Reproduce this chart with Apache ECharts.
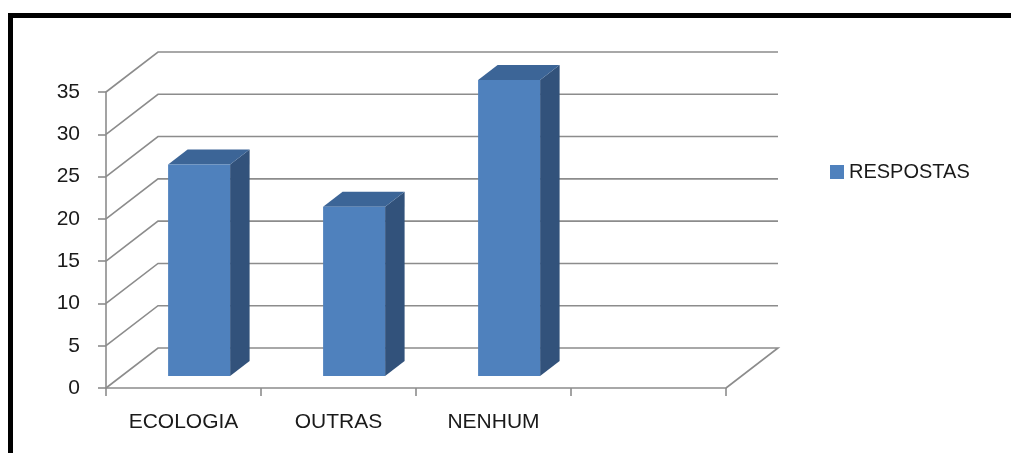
<!DOCTYPE html>
<html>
<head>
<meta charset="utf-8">
<script src="https://cdn.jsdelivr.net/npm/echarts@6/dist/echarts.min.js"></script>
<style>
  html, body { margin: 0; padding: 0; background: #fff; }
  #chart { width: 1011px; height: 453px; }
</style>
</head>
<body>
<div id="chart"></div>
<script>
// dados do gráfico
var categories = ['ECOLOGIA', 'OUTRAS', 'NENHUM', ''];
var respostas = [25, 20, 35];
var yTicks = [0, 5, 10, 15, 20, 25, 30, 35];
var seriesName = 'RESPOSTAS';

// deslocamento da profundidade (efeito 3D)
var DX = 52, DY = -40;
var F1 = 0.3, F2 = 0.675; // posição da barra na profundidade
var fontName = 'Liberation Sans';

var myChart = echarts.init(document.getElementById('chart'));

// paredes e piso com as linhas de grade
function renderWalls(params, api) {
  var cs = params.coordSys;
  var v = api.value(1);
  var y = api.coord([0, v])[1];
  var left = cs.x, right = cs.x + cs.width;
  var pts = [[left, y], [left + DX, y + DY], [right + DX, y + DY]];
  if (v === 0) pts.push([right, y]);
  return {
    type: 'polyline',
    shape: { points: pts },
    style: { stroke: '#8c8c8c', lineWidth: 1.6, fill: null }
  };
}

// barras 3D
function renderBar(params, api) {
  var cat = api.value(0);
  var val = api.value(1);
  var base = api.coord([cat, 0]);
  var topP = api.coord([cat, val]);
  var w = api.size([1, 0])[0] * 0.4;
  var x0 = base[0] - w / 2 + F1 * DX;
  var x1 = x0 + w;
  var yb = base[1] + F1 * DY;
  var yt = topP[1] + F1 * DY;
  var ddx = (F2 - F1) * DX, ddy = (F2 - F1) * DY;
  return {
    type: 'group',
    children: [
      {
        type: 'polygon',
        shape: { points: [[x1, yt], [x1 + ddx, yt + ddy], [x1 + ddx, yb + ddy], [x1, yb]] },
        style: { fill: '#32527b' }
      },
      {
        type: 'polygon',
        shape: { points: [[x0, yt], [x1, yt], [x1 + ddx, yt + ddy], [x0 + ddx, yt + ddy]] },
        style: { fill: '#3c6597' }
      },
      {
        type: 'rect',
        shape: { x: x0, y: yt, width: w, height: yb - yt },
        style: { fill: '#4f81bd' }
      }
    ]
  };
}

myChart.setOption({
  animation: false,
  backgroundColor: '#fff',
  textStyle: { fontFamily: fontName },
  graphic: [
    {
      type: 'rect',
      shape: { x: 10.5, y: 15.5, width: 1200, height: 600 },
      style: { fill: null, stroke: '#000', lineWidth: 5 },
      z: 100
    }
  ],
  legend: {
    data: [{ name: seriesName, icon: 'rect' }],
    left: 825,
    top: 157,
    itemWidth: 14,
    itemHeight: 14,
    textStyle: { fontSize: 20, color: '#1a1a1a', fontFamily: fontName }
  },
  grid: {
    left: 106,
    top: 92,
    width: 620,
    height: 296,
    containLabel: false
  },
  xAxis: {
    type: 'category',
    data: categories,
    boundaryGap: true,
    axisLine: { lineStyle: { color: '#8c8c8c', width: 1.6 } },
    axisTick: { show: true, length: 8, lineStyle: { color: '#8c8c8c', width: 1.6 } },
    axisLabel: { color: '#1a1a1a', fontSize: 21, margin: 24, fontFamily: fontName },
    splitLine: { show: false }
  },
  yAxis: {
    type: 'value',
    min: 0,
    max: 35,
    interval: 5,
    axisLine: { show: true, lineStyle: { color: '#8c8c8c', width: 1.6 } },
    axisTick: { show: true, length: 8, lineStyle: { color: '#8c8c8c', width: 1.6 } },
    axisLabel: { color: '#1a1a1a', fontSize: 21, margin: 26, fontFamily: fontName },
    splitLine: { show: false }
  },
  series: [
    {
      name: 'grade',
      type: 'custom',
      renderItem: renderWalls,
      data: yTicks.map(function (v) { return [0, v]; }),
      z: 1,
      silent: true
    },
    {
      name: seriesName,
      type: 'custom',
      renderItem: renderBar,
      itemStyle: { color: '#4f81bd' },
      data: respostas.map(function (v, i) { return [i, v]; }),
      z: 2
    }
  ]
});
</script>
</body>
</html>
